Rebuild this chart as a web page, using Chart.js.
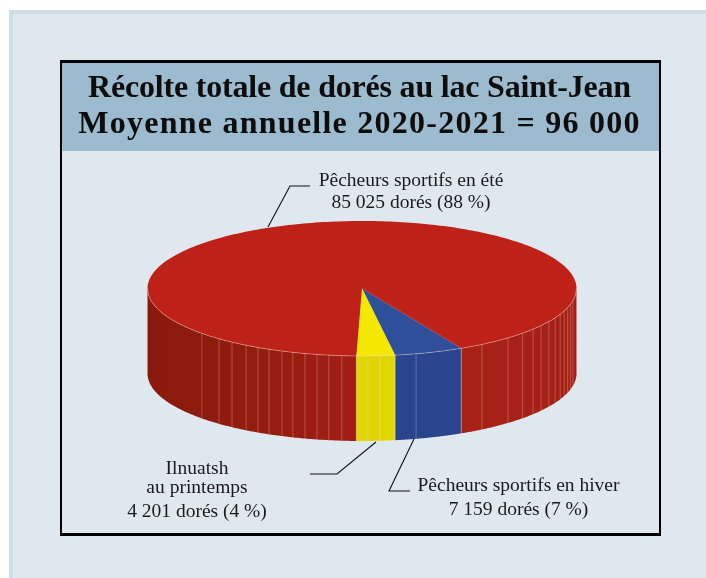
<!DOCTYPE html>
<html lang="fr">
<head>
<meta charset="utf-8">
<title>Récolte totale de dorés au lac Saint-Jean</title>
<script src="https://cdn.jsdelivr.net/npm/chart.js@4"></script>
<style>
    html, body { margin: 0; padding: 0; background: #fff; overflow: hidden; width: 706px; height: 578px; }
    #panneau { position: absolute; left: 9px; top: 10px; width: 720px; height: 600px; background: #E0E8EF; border: 4px solid #CFDDE8; }
    #cadre { position: absolute; left: 60px; top: 60px; width: 597px; height: 470px; border: solid #000; border-width: 3px 2px; }
    #bandeau { position: absolute; left: 62px; top: 63px; width: 597px; height: 88px; background: #9DBBCE; }
    #zone { position: absolute; left: 61px; top: 63px; width: 597px; height: 515px; }
</style>
</head>
<body>
<div id="panneau"></div>
<div id="cadre"></div>
<div id="bandeau"></div>
<div id="zone"><canvas id="graphique" width="597" height="515"></canvas></div>
<script>
// ==============================================================================
// 1. DONNÉES
// ==============================================================================
const TITRE = ["Récolte totale de dorés au lac Saint-Jean", "Moyenne annuelle 2020-2021 = 96 000"];
const CATEGORIES = ["Pêcheurs sportifs en hiver", "Ilnuatsh au printemps", "Pêcheurs sportifs en été"];
const VALEURS = [7159, 4201, 85025];
const COULEURS = ["#2F4F9A", "#F5E800", "#BE2118"];
const ETIQUETTES = [
    ["Pêcheurs sportifs en hiver", "7 159 dorés (7 %)"],
    ["Ilnuatsh", "au printemps", "4 201 dorés (4 %)"],
    ["Pêcheurs sportifs en été", "85 025 dorés (88 %)"]
];

// ==============================================================================
// 2. PLUGIN : TARTE EN PERSPECTIVE
// ==============================================================================
const ECRASEMENT = 0.3147;    // ry / rx de l'ellipse
const CENTRE_X = 301;
const CENTRE_Y = 225.5;
const EPAISSEUR = 85;
const RACCOURCI = 0.34;       // le devant de la tarte est raccourci
const FACETTES = [1.6, 4.8, 14.6, 34, 42.9, 48.5, 52.9, 56.6, 60.6, 64.2, 67.5, 70.5, 73.5, 76.5, 79.5,
    -5.4, -8.9, -12.1, -15.4, -18.8, -21.9, -25.7, -29, -32.7, -37.3, -41.8, -48.3];
const COTES = [
    [[0, "#2A448E"], [1, "#2A448E"]],
    [[0, "#E2D600"], [1, "#E2D600"]],
    [[0, "#8A1A0D"], [0.15, "#8D1B0E"], [0.45, "#A01E13"], [0.75, "#A82116"], [1, "#A42015"]]
];
// positions en coordonnées du canvas
const LIGNES_TITRE = [{ y: 34, espace: '-0.2px' }, { y: 70, espace: '1.25px' }];
const APPELS = [
    { x: 457.5, lignes: [428, 452], trait: [[349, 428], [328, 428], [353, 376]] },
    { x: 136, lignes: [411, 430, 454], trait: [[249, 411], [276, 411], [315, 379]] },
    { x: 350, lignes: [123, 145], trait: [[249, 123], [229, 123], [207, 164]] }
];

function projeter(angle) { return angle + RACCOURCI * Math.cos(angle); }

const tarte3d = {
    id: 'tarte3d',
    beforeDatasetDraw(chart) {
        const ctx = chart.ctx;
        const arcs = chart.getDatasetMeta(0).data;
        const cx = CENTRE_X, rx = arcs[0].outerRadius, ry = rx * ECRASEMENT;
        const px = a => cx + rx * Math.cos(a);
        const py = a => CENTRE_Y + ry * Math.sin(a);

        // côtés
        arcs.forEach((arc, i) => {
            const pts = [];
            for (let s = 0; s <= 400; s++) {
                const a = projeter(arc.startAngle + (arc.endAngle - arc.startAngle) * s / 400);
                const n = ((a % (2 * Math.PI)) + 2 * Math.PI) % (2 * Math.PI);
                if (n <= Math.PI) pts.push(n);
            }
            if (!pts.length) return;
            const tri = pts.sort((u, v) => u - v);
            const grad = ctx.createLinearGradient(cx - rx, 0, cx + rx, 0);
            COTES[i].forEach(([o, c]) => grad.addColorStop(o, c));
            ctx.fillStyle = grad;
            // morceaux séparés si la tranche est coupée par d'autres
            let debut = 0;
            for (let k = 1; k <= tri.length; k++) {
                if (k === tri.length || tri[k] - tri[k - 1] > 0.05) {
                    ctx.beginPath();
                    for (let j = debut; j < k; j++) ctx.lineTo(px(tri[j]), py(tri[j]));
                    for (let j = k - 1; j >= debut; j--) ctx.lineTo(px(tri[j]), py(tri[j]) + EPAISSEUR);
                    ctx.closePath();
                    ctx.fill();
                    debut = k;
                }
            }
        });

        // facettes du côté
        ctx.lineWidth = 1;
        ctx.strokeStyle = 'rgba(255,225,215,0.28)';
        FACETTES.forEach(d => {
            const a = Math.PI / 2 - d * Math.PI / 180;
            ctx.beginPath();
            ctx.moveTo(px(a), py(a));
            ctx.lineTo(px(a), py(a) + EPAISSEUR);
            ctx.stroke();
        });

        // dessus
        arcs.forEach(arc => {
            ctx.beginPath();
            ctx.moveTo(cx, CENTRE_Y);
            for (let s = 0; s <= 400; s++) {
                const a = projeter(arc.startAngle + (arc.endAngle - arc.startAngle) * s / 400);
                ctx.lineTo(px(a), py(a));
            }
            ctx.closePath();
            ctx.fillStyle = arc.options.backgroundColor;
            ctx.fill();
        });

        // liseré du bord avant et arêtes entre les tranches
        ctx.strokeStyle = 'rgba(255,215,205,0.4)';
        ctx.beginPath();
        ctx.ellipse(cx, CENTRE_Y, rx, ry, 0, 0, Math.PI);
        ctx.stroke();
        arcs.forEach(arc => {
            const a = projeter(arc.startAngle);
            ctx.strokeStyle = 'rgba(255,255,255,0.3)';
            ctx.beginPath();
            ctx.moveTo(px(a), py(a));
            ctx.lineTo(px(a), py(a) + EPAISSEUR);
            ctx.stroke();
        });
        return false; // la tarte est déjà dessinée
    },
    afterDraw(chart) {
        const ctx = chart.ctx;
        ctx.save();
        ctx.textAlign = 'center';
        ctx.textBaseline = 'alphabetic';

        // titre : l'espacement varie d'une ligne à l'autre
        ctx.font = 'bold 32px "Liberation Serif"';
        ctx.fillStyle = '#0d0d0d';
        TITRE.forEach((txt, n) => {
            ctx.letterSpacing = LIGNES_TITRE[n].espace;
            ctx.fillText(txt, chart.width / 2, LIGNES_TITRE[n].y);
        });
        ctx.letterSpacing = '0px';

        ctx.font = '19.5px "Liberation Serif"';
        ctx.fillStyle = '#1a1a1a';
        ctx.strokeStyle = '#111';
        ctx.lineWidth = 1.1;
        APPELS.forEach((appel, i) => {
            ETIQUETTES[i].forEach((txt, n) => ctx.fillText(txt, appel.x, appel.lignes[n]));
            ctx.beginPath();
            appel.trait.forEach(([x, y]) => ctx.lineTo(x, y));
            ctx.stroke();
        });
        ctx.restore();
    }
};

// ==============================================================================
// 3. GRAPHIQUE
// ==============================================================================
new Chart(document.getElementById('graphique'), {
    type: 'pie',
    plugins: [tarte3d],
    data: {
        labels: CATEGORIES,
        datasets: [{ data: VALEURS, backgroundColor: COULEURS, borderWidth: 0 }]
    },
    options: {
        responsive: false,
        animation: false,
        rotation: 139.87,
        layout: { padding: { top: 86 } },
        plugins: {
            legend: { display: false },
            tooltip: { enabled: false }
        }
    }
});
</script>
</body>
</html>
